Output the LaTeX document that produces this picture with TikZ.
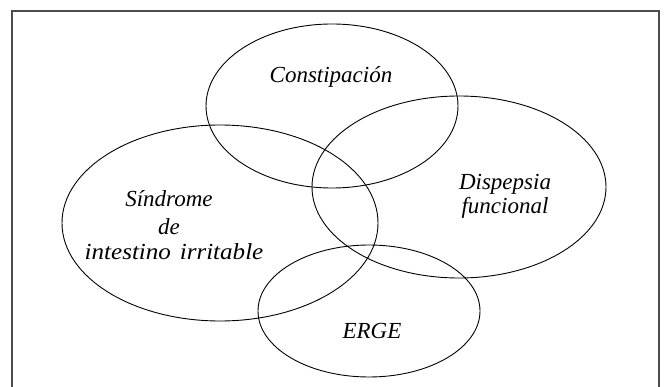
\documentclass[tikz,border=0pt]{standalone}
\usepackage{fontspec}
\setmainfont{Liberation Serif}
\begin{document}
\begin{tikzpicture}[x=1pt,y=-1pt,
  venn/.style={draw=black,line width=0.9pt},
  lab/.style={font=\fontsize{23}{27}\selectfont\itshape,inner sep=0pt,anchor=base}]
\useasboundingbox (0,0) rectangle (664,387);
\fill[white] (0,0) rectangle (664,387);
\draw[black!70,line width=1.6pt] (12,390) -- (12,11) -- (659,11) -- (659,390);
\draw[venn] (332,106) ellipse [x radius=126, y radius=82];
\draw[venn] (459,187) ellipse [x radius=147, y radius=91];
\draw[venn] (220,223) ellipse [x radius=158, y radius=98];
\draw[venn] (369,311) ellipse [x radius=111, y radius=66];
\node[lab] (c) at (331,83) {Constipación};
\node[lab] (d1) at (505,190) {Dispepsia};
\node[lab] (d2) at (505,214) {funcional};
\node[lab] (s1) at (169,207) {Síndrome};
\node[lab] (s2) at (169,235) {de};
\node[lab] (s3) at (174,260) {\scalebox{1.09}[1]{intestino\hspace{0.35em}irritable}};
\node[lab] (e) at (372,338) {ERGE};
\end{tikzpicture}
\end{document}
